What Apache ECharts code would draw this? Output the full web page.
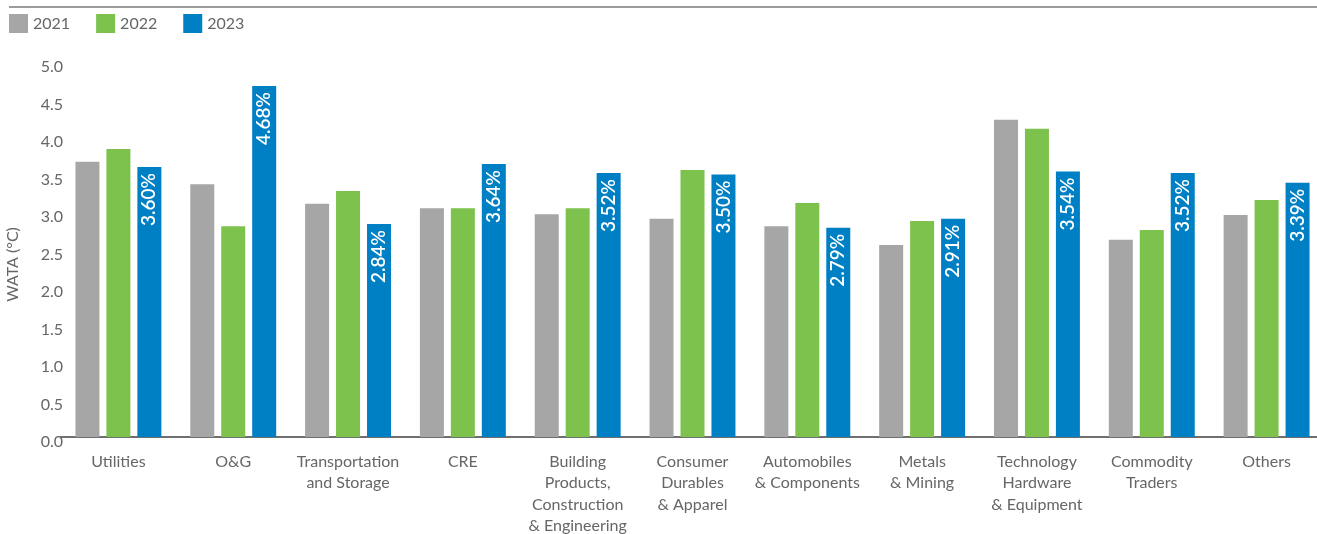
<!DOCTYPE html>
<html>
<head>
<meta charset="utf-8">
<script src="https://cdn.jsdelivr.net/npm/echarts@6/dist/echarts.min.js"></script>
<style>
  html, body { margin: 0; padding: 0; background: #fff; }
  #chart { width: 1317px; height: 534px; }
</style>
</head>
<body>
<div id="chart"></div>
<script>
const categories = [
  'Utilities', 'O&G', 'Transportation\nand Storage', 'CRE',
  'Building\nProducts,\nConstruction\n& Engineering', 'Consumer\nDurables\n& Apparel',
  'Automobiles\n& Components', 'Metals\n& Mining', 'Technology\nHardware\n& Equipment',
  'Commodity\nTraders', 'Others'
]
const years = ['2021', '2022', '2023']
const values2021 = [3.67, 3.37, 3.11, 3.05, 2.97, 2.91, 2.81, 2.56, 4.23, 2.63, 2.96]
const values2022 = [3.84, 2.81, 3.28, 3.05, 3.05, 3.56, 3.12, 2.88, 4.11, 2.76, 3.16]
const values2023 = [3.60, 4.68, 2.84, 3.64, 3.52, 3.50, 2.79, 2.91, 3.54, 3.52, 3.39]
const yTicks = [0, 0.5, 1, 1.5, 2, 2.5, 3, 3.5, 4, 4.5, 5]

const colors = ['#a6a6a6', '#7dc24c', '#0080c4']
const fontFamily = 'Lato, "Noto Sans", sans-serif'

const chart = echarts.init(document.getElementById('chart'))
const seriesData = [values2021, values2022, values2023]

const option = {
  animation: false,
  textStyle: { fontFamily: fontFamily },
  color: colors,
  graphic: [
    {
      type: 'line',
      shape: { x1: 9, y1: 7, x2: 1317, y2: 7 },
      style: { stroke: '#7a7a7a', lineWidth: 1.5 }
    }
  ],
  legend: {
    left: 9,
    top: 14,
    padding: 0,
    itemWidth: 19,
    itemHeight: 19,
    itemGap: 26,
    icon: 'rect',
    textStyle: { fontSize: 16, color: '#666', fontFamily: fontFamily },
    data: years
  },
  grid: {
    left: 61,
    right: -7,
    top: 62,
    bottom: 97,
    outerBoundsMode: 'none',
    containLabel: false
  },
  xAxis: {
    type: 'category',
    data: categories,
    axisLine: { lineStyle: { color: '#6f6f6f', width: 2 } },
    axisTick: { show: false },
    axisLabel: {
      interval: 0,
      color: '#666',
      fontSize: 16,
      lineHeight: 21.5,
      margin: 14,
      fontFamily: fontFamily
    }
  },
  yAxis: {
    type: 'value',
    min: 0,
    max: 5,
    interval: 0.5,
    name: 'WATA (°C)',
    nameLocation: 'middle',
    nameGap: 40,
    nameTextStyle: { fontSize: 16, color: '#666', fontFamily: fontFamily, padding: [0, 0, 0, -30] },
    axisLine: { show: false },
    axisTick: { show: false },
    splitLine: { show: false },
    axisLabel: {
      color: '#666',
      fontSize: 16,
      lineHeight: 10,
      margin: -2,
      verticalAlign: 'top',
      fontFamily: fontFamily,
      formatter: v => yTicks.includes(v) ? v.toFixed(1) : ''
    }
  },
  series: years.map((y, i) => ({
    name: y,
    type: 'bar',
    data: seriesData[i],
    barWidth: 24,
    barGap: '29%',
    itemStyle: { color: colors[i] },
    label: i === 2 ? {
      show: true,
      position: 'insideTop',
      rotate: 90,
      align: 'right',
      verticalAlign: 'middle',
      distance: 6,
      color: '#fff',
      fontSize: 19,
      fontWeight: 600,
      fontFamily: fontFamily,
      formatter: p => p.value.toFixed(2) + '%'
    } : { show: false }
  }))
}

chart.setOption(option)
</script>
</body>
</html>
